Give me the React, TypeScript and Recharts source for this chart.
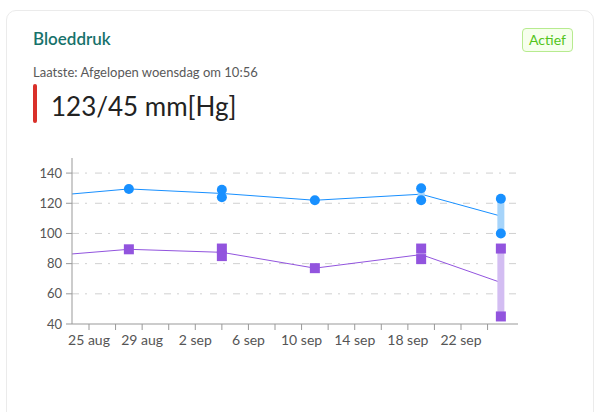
import React from 'react';
import {
  ComposedChart,
  Line,
  Scatter,
  XAxis,
  YAxis,
  CartesianGrid,
} from 'recharts';

// days counted from 25 aug
const xTicks = [0, 2, 4, 6, 8, 10, 12, 14, 16, 18, 20, 22, 24, 26, 28, 30];
const xTickLabels = ['25 aug', '', '29 aug', '', '2 sep', '', '6 sep', '', '10 sep', '', '14 sep', '', '18 sep', '', '22 sep', ''];
const yTicks = [40, 60, 80, 100, 120, 140];
const gridValues = [60, 80, 100, 120, 140];

// trend line (mean per measurement day), first point lies before the visible window
const lineDays = [-6, 3, 10, 17, 25, 31];
const systolicLine = [122.5, 129.5, 126.5, 122, 126, 111.5];
const diastolicLine = [83, 89.5, 87.5, 77, 86, 67.5];

// single readings
const readingDays = [3, 10, 10, 17, 25, 25, 31, 31];
const systolic = [129.5, 129, 124, 122, 130, 122, 123, 100];
const diastolic = [89.5, 90, 85, 77, 90, 83, 90, 45];

const BLUE = '#1890ff';
const PURPLE = '#9254de';
const FONT = 'Lato, "Noto Sans", sans-serif';

const toPoints = (days: number[], vals: number[]) => days.map((d, i) => ({ d, v: vals[i] }));

// min/max per day with more than one reading
const rangesOf = (vals: number[]) => {
  const map = new Map<number, number[]>();
  readingDays.forEach((d, i) => map.set(d, [...(map.get(d) || []), vals[i]]));
  return Array.from(map.entries())
    .filter(([, v]) => v.length > 1)
    .map(([d, v]) => [{ d, v: Math.min(...v) }, { d, v: Math.max(...v) }]);
};

const sysRanges = rangesOf(systolic);
const diaRanges = rangesOf(diastolic);

const Circle = (p: any) => <circle cx={p.cx} cy={p.cy} r={5} fill={BLUE} />;
const Square = (p: any) => <rect x={p.cx - 5} y={p.cy - 5} width={10} height={10} fill={PURPLE} />;
const Empty = () => <g />;

export default function App() {
  return (
    <div style={{ position: 'absolute', left: 0, top: 0, width: 595, height: 412, overflow: 'hidden', fontFamily: FONT, background: '#fff' }}>
      {/* card */}
      <div style={{ position: 'absolute', left: 6, top: 10, width: 588, height: 430, border: '1px solid #ebebeb', borderRadius: 10, boxSizing: 'border-box' }} />

      <div style={{ position: 'absolute', left: 33, top: 30, fontSize: 17, lineHeight: '17px', fontWeight: 600, color: '#17726b' }}>
        Bloeddruk
      </div>
      <div style={{ position: 'absolute', left: 522, top: 28, width: 51, height: 24, boxSizing: 'border-box', border: '1px solid #b7eb8f', background: '#f6ffed', borderRadius: 4, color: '#52c41a', fontSize: 14, lineHeight: '22px', textAlign: 'center' }}>
        Actief
      </div>
      <div style={{ position: 'absolute', left: 33, top: 66, fontSize: 13, lineHeight: '13px', color: '#595959' }}>
        Laatste: Afgelopen woensdag om 10:56
      </div>
      <div style={{ position: 'absolute', left: 33, top: 84, width: 4, height: 39, borderRadius: 2, background: '#d9302a' }} />
      <div style={{ position: 'absolute', left: 51, top: 93, fontSize: 26, lineHeight: '26px', color: '#222' }}>
        123/45 mm[Hg]
      </div>

      <div style={{ position: 'absolute', left: 20, top: 150 }}>
        <ComposedChart width={520} height={210} margin={{ top: 8, right: 22, bottom: 6, left: 12 }}>
          <CartesianGrid
            horizontal
            vertical={false}
            horizontalValues={gridValues}
            stroke="#d0d0d0"
            strokeDasharray="7 6 2 8"
          />
          <XAxis
            type="number"
            dataKey="d"
            domain={[-1.28, 32.29]}
            allowDataOverflow
            ticks={xTicks}
            interval={0}
            tickFormatter={(v: number) => xTickLabels[xTicks.indexOf(v)] ?? ''}
            height={30}
            stroke="#999"
            tickSize={6}
            tickMargin={5}
            tick={{ fill: '#555', fontSize: 14, fontFamily: FONT }}
          />
          <YAxis
            type="number"
            dataKey="v"
            domain={[40, 150]}
            ticks={yTicks}
            interval={0}
            width={40}
            stroke="#999"
            tickSize={6}
            tickMargin={4}
            tick={{ fill: '#555', fontSize: 13, fontFamily: FONT }}
          />
          {sysRanges.map((r, i) => (
            <Scatter key={`s${i}`} data={r} shape={Empty} line={{ stroke: '#a6d4fa', strokeWidth: 7 }} isAnimationActive={false} />
          ))}
          {diaRanges.map((r, i) => (
            <Scatter key={`r${i}`} data={r} shape={Empty} line={{ stroke: '#d3bdf2', strokeWidth: 7 }} isAnimationActive={false} />
          ))}
          <Line data={toPoints(lineDays, systolicLine)} dataKey="v" stroke={BLUE} strokeWidth={1} dot={false} isAnimationActive={false} />
          <Line data={toPoints(lineDays, diastolicLine)} dataKey="v" stroke={PURPLE} strokeWidth={1} dot={false} isAnimationActive={false} />
          <Scatter data={toPoints(readingDays, systolic)} shape={Circle} isAnimationActive={false} />
          <Scatter data={toPoints(readingDays, diastolic)} shape={Square} isAnimationActive={false} />
        </ComposedChart>
      </div>
    </div>
  );
}
